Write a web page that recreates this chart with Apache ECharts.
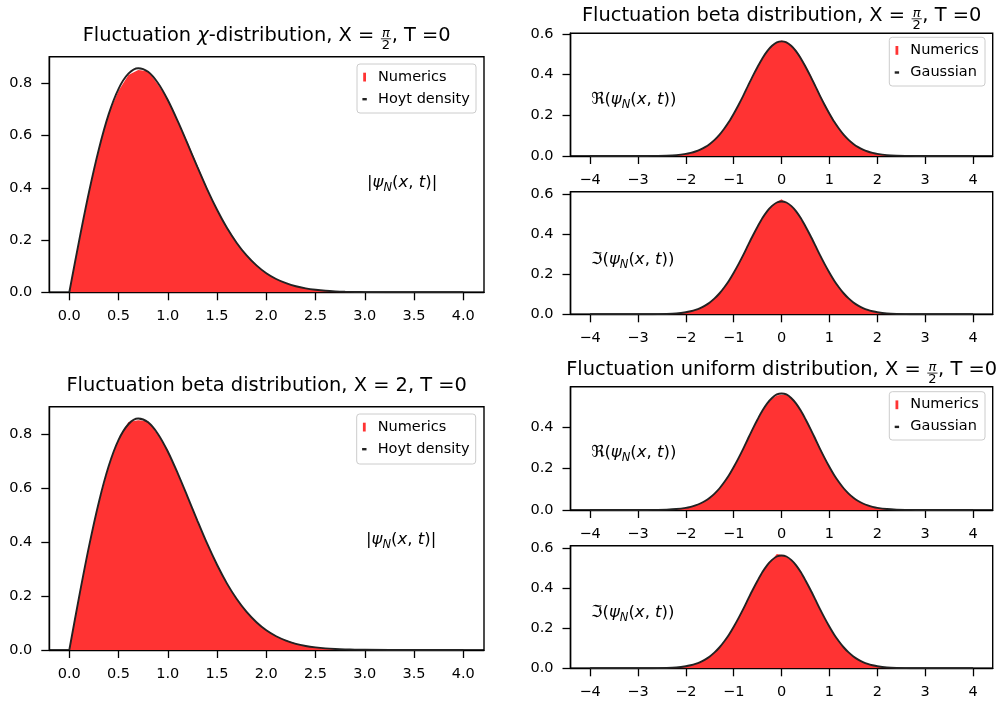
<!DOCTYPE html>
<html lang="en">
<head>
<meta charset="UTF-8">
<title>Fluctuation distributions</title>
<script src="https://cdn.jsdelivr.net/npm/echarts@6/dist/echarts.min.js"></script>
<style>
  html, body { margin: 0; padding: 0; background: #fff; }
  #main { width: 1000px; height: 704px; }
</style>
</head>
<body>
<div id="main"></div>
<script>
// ---- values ----
// left panels: |psi_N| histograms and Hoyt density
var hoytX = [0, 0.1, 0.2, 0.3, 0.4, 0.5, 0.6, 0.7, 0.8, 0.9, 1.0, 1.1, 1.2, 1.3, 1.4, 1.5, 1.6, 1.7, 1.8, 1.9,
             2.0, 2.1, 2.2, 2.3, 2.4, 2.5, 2.6, 2.7, 2.8, 2.9, 3.0];
var hoytCurveX = [0, 0.1, 0.2, 0.3, 0.4, 0.5, 0.6, 0.7, 0.8, 0.9, 1.0, 1.1, 1.2, 1.3, 1.4, 1.5, 1.6, 1.7, 1.8, 1.9,
                  2.0, 2.1, 2.2, 2.3, 2.4, 2.5, 2.6, 2.7, 2.8, 2.9, 3.0, 3.5, 4.0];
var hoytCurve = [0, 0.198, 0.384, 0.548, 0.682, 0.779, 0.837, 0.858, 0.844, 0.801,
                 0.736, 0.656, 0.569, 0.480, 0.394, 0.316, 0.247, 0.189, 0.141, 0.103,
                 0.073, 0.051, 0.035, 0.023, 0.015, 0.0097, 0.006, 0.0037, 0.0022, 0.0013,
                 0.0007, 0.00005, 0];
var chiNumerics = [0, 0.192, 0.380, 0.545, 0.684, 0.772, 0.832, 0.851, 0.846, 0.796,
                   0.740, 0.660, 0.575, 0.486, 0.398, 0.313, 0.250, 0.192, 0.139, 0.105,
                   0.071, 0.052, 0.034, 0.022, 0.016, 0.009, 0.006, 0.004, 0.002, 0.001,
                   0.0007];
var betaNumerics = [0, 0.195, 0.386, 0.544, 0.680, 0.781, 0.845, 0.852, 0.848, 0.798,
                    0.742, 0.652, 0.566, 0.483, 0.392, 0.318, 0.245, 0.190, 0.143, 0.101,
                    0.074, 0.050, 0.036, 0.024, 0.014, 0.010, 0.005, 0.004, 0.002, 0.001,
                    0.0006];

// right panels: real / imaginary part histograms and Gaussian
var gaussX = [-2.5, -2.4, -2.3, -2.2, -2.1, -2.0, -1.9, -1.8, -1.7, -1.6,
              -1.5, -1.4, -1.3, -1.2, -1.1, -1.0, -0.9, -0.8, -0.7, -0.6,
              -0.5, -0.4, -0.3, -0.2, -0.1, 0, 0.1, 0.2, 0.3, 0.4,
              0.5, 0.6, 0.7, 0.8, 0.9, 1.0, 1.1, 1.2, 1.3, 1.4,
              1.5, 1.6, 1.7, 1.8, 1.9, 2.0, 2.1, 2.2, 2.3, 2.4, 2.5];
var gaussCurveX = [-4, -3.5, -3, -2.8, -2.6, -2.4, -2.2,
                   -2.0, -1.9, -1.8, -1.7, -1.6, -1.5, -1.4, -1.3, -1.2, -1.1,
                   -1.0, -0.9, -0.8, -0.7, -0.6, -0.5, -0.4, -0.3, -0.2, -0.1,
                   0,
                   0.1, 0.2, 0.3, 0.4, 0.5, 0.6, 0.7, 0.8, 0.9, 1.0,
                   1.1, 1.2, 1.3, 1.4, 1.5, 1.6, 1.7, 1.8, 1.9, 2.0,
                   2.2, 2.4, 2.6, 2.8, 3, 3.5, 4];
var gaussCurve = [0, 0, 0.0001, 0.0002, 0.0007, 0.0018, 0.0045,
                  0.0103, 0.0153, 0.0221, 0.0314, 0.0436, 0.0595, 0.0795, 0.104, 0.134, 0.168,
                  0.208, 0.251, 0.297, 0.346, 0.394, 0.439, 0.481, 0.516, 0.542, 0.559,
                  0.564,
                  0.559, 0.542, 0.516, 0.481, 0.439, 0.394, 0.346, 0.297, 0.251, 0.208,
                  0.168, 0.134, 0.104, 0.0795, 0.0595, 0.0436, 0.0314, 0.0221, 0.0153, 0.0103,
                  0.0045, 0.0018, 0.0007, 0.0002, 0.0001, 0, 0];
var reBeta = [0.001, 0.002, 0.003, 0.004, 0.007, 0.010, 0.015, 0.022, 0.031, 0.043,
              0.058, 0.078, 0.102, 0.132, 0.166, 0.205, 0.247, 0.292, 0.340, 0.389,
              0.435, 0.478, 0.514, 0.541, 0.560, 0.568, 0.562, 0.546, 0.521, 0.486,
              0.445, 0.401, 0.352, 0.303, 0.257, 0.213, 0.172, 0.137, 0.106, 0.081,
              0.060, 0.044, 0.032, 0.022, 0.015, 0.010, 0.007, 0.005, 0.003, 0.002, 0.001];
var imBeta = [0.001, 0.002, 0.003, 0.004, 0.007, 0.010, 0.015, 0.022, 0.031, 0.044,
              0.060, 0.080, 0.104, 0.134, 0.168, 0.209, 0.252, 0.296, 0.345, 0.393,
              0.440, 0.480, 0.515, 0.543, 0.561, 0.575, 0.557, 0.541, 0.514, 0.482,
              0.437, 0.392, 0.347, 0.296, 0.250, 0.207, 0.168, 0.133, 0.104, 0.080,
              0.059, 0.044, 0.031, 0.022, 0.015, 0.010, 0.007, 0.004, 0.003, 0.002, 0.001];
var reUniform = [0.001, 0.002, 0.003, 0.004, 0.007, 0.010, 0.015, 0.022, 0.031, 0.043,
                 0.059, 0.079, 0.103, 0.133, 0.167, 0.206, 0.249, 0.294, 0.343, 0.390,
                 0.436, 0.478, 0.512, 0.538, 0.554, 0.558, 0.557, 0.544, 0.518, 0.484,
                 0.442, 0.398, 0.351, 0.301, 0.255, 0.211, 0.171, 0.136, 0.105, 0.080,
                 0.060, 0.044, 0.032, 0.022, 0.016, 0.010, 0.007, 0.005, 0.003, 0.002, 0.001];
var imUniform = [0.001, 0.002, 0.003, 0.004, 0.007, 0.010, 0.015, 0.022, 0.031, 0.044,
                 0.060, 0.080, 0.104, 0.134, 0.168, 0.208, 0.251, 0.297, 0.346, 0.394,
                 0.439, 0.481, 0.516, 0.543, 0.572, 0.566, 0.556, 0.540, 0.515, 0.480,
                 0.438, 0.393, 0.345, 0.296, 0.250, 0.207, 0.167, 0.133, 0.103, 0.079,
                 0.059, 0.043, 0.031, 0.022, 0.015, 0.010, 0.007, 0.004, 0.003, 0.002, 0.001];

// ticks
var leftXTicks = [0, 0.5, 1, 1.5, 2, 2.5, 3, 3.5, 4];
var leftYTicks = [0, 0.2, 0.4, 0.6, 0.8];
var rightXTicks = [-4, -3, -2, -1, 0, 1, 2, 3, 4];
var rightYTicks = [0, 0.2, 0.4, 0.6];
var rightYTicksShort = [0, 0.2, 0.4];

// ---- chart ----
var FONT = 'DejaVu Sans';
var RED = '#ff3333';
var LINE = '#222222';

function pairs(xs, ys) {
  return xs.map(function (x, i) { return [x, ys[i]]; });
}
function fixed1(v) { return v.toFixed(1); }
function intMinus(v) { return v < 0 ? '\u2212' + Math.abs(v) : String(v); }

var panels = [
  { grid: { left: 49.3, top: 56.7, width: 434.7, height: 235.6 }, xMin: -0.203, xMax: 4.21, yMax: 0.902,
    xTicks: leftXTicks, yTicks: leftYTicks, xFmt: fixed1, histX: hoytX, hist: chiNumerics,
    curveX: hoytCurveX, curve: hoytCurve, curveName: 'Hoyt density' },
  { grid: { left: 49.3, top: 406.7, width: 434.7, height: 243.3 }, xMin: -0.203, xMax: 4.21, yMax: 0.902,
    xTicks: leftXTicks, yTicks: leftYTicks, xFmt: fixed1, histX: hoytX, hist: betaNumerics,
    curveX: hoytCurveX, curve: hoytCurve, curveName: 'Hoyt density' },
  { grid: { left: 570.5, top: 33.3, width: 422.2, height: 122.7 }, xMin: -4.41, xMax: 4.41, yMax: 0.6035,
    xTicks: rightXTicks, yTicks: rightYTicks, xFmt: intMinus, histX: gaussX, hist: reBeta,
    curveX: gaussCurveX, curve: gaussCurve, curveName: 'Gaussian' },
  { grid: { left: 570.5, top: 191.7, width: 422.2, height: 122.6 }, xMin: -4.41, xMax: 4.41, yMax: 0.613,
    xTicks: rightXTicks, yTicks: rightYTicks, xFmt: intMinus, histX: gaussX, hist: imBeta,
    curveX: gaussCurveX, curve: gaussCurve, curveName: 'Gaussian' },
  { grid: { left: 570.5, top: 386.7, width: 422.2, height: 123.3 }, xMin: -4.41, xMax: 4.41, yMax: 0.5966,
    xTicks: rightXTicks, yTicks: rightYTicksShort, xFmt: intMinus, histX: gaussX, hist: reUniform,
    curveX: gaussCurveX, curve: gaussCurve, curveName: 'Gaussian' },
  { grid: { left: 570.5, top: 545.7, width: 422.2, height: 122.6 }, xMin: -4.41, xMax: 4.41, yMax: 0.613,
    xTicks: rightXTicks, yTicks: rightYTicks, xFmt: intMinus, histX: gaussX, hist: imUniform,
    curveX: gaussCurveX, curve: gaussCurve, curveName: 'Gaussian' }
];

var grids = [], xAxes = [], yAxes = [], series = [];
var tickStyle = { show: true, inside: false, length: 8, lineStyle: { color: '#000', width: 1.3 } };
var labelBase = { color: '#000', fontFamily: FONT, fontSize: 14.5 };

panels.forEach(function (p, i) {
  grids.push(Object.assign({ show: true, borderColor: '#000', borderWidth: 1.4, backgroundColor: '#fff' }, p.grid));
  xAxes.push({
    type: 'value', gridIndex: i, min: p.xMin, max: p.xMax,
    axisLine: { show: true, onZero: false, lineStyle: { color: '#000', width: 1.4 } },
    axisTick: Object.assign({ customValues: p.xTicks }, tickStyle),
    axisLabel: Object.assign({ customValues: p.xTicks, formatter: p.xFmt, margin: 16.5 }, labelBase),
    splitLine: { show: false }
  });
  yAxes.push({
    type: 'value', gridIndex: i, min: 0, max: p.yMax,
    axisLine: { show: true, onZero: false, lineStyle: { color: '#000', width: 1.4 } },
    axisTick: Object.assign({ customValues: p.yTicks }, tickStyle),
    axisLabel: Object.assign({ customValues: p.yTicks, formatter: fixed1, margin: 17 }, labelBase),
    splitLine: { show: false }
  });
  series.push({
    name: 'Numerics', type: 'line', xAxisIndex: i, yAxisIndex: i,
    data: pairs(p.histX, p.hist), symbol: 'none', silent: true,
    lineStyle: { width: 0 }, itemStyle: { color: RED },
    areaStyle: { color: RED, opacity: 1 }, z: 2
  });
  series.push({
    name: p.curveName, type: 'line', xAxisIndex: i, yAxisIndex: i,
    data: pairs(p.curveX, p.curve), symbol: 'none', silent: true, smooth: 0.3,
    lineStyle: { color: LINE, width: 1.9 }, itemStyle: { color: LINE }, z: 3
  });
});

// ---- titles, legends and labels drawn as graphic text ----
var mctx = document.createElement('canvas').getContext('2d');
function textW(s, size, italic) {
  mctx.font = (italic ? 'italic ' : '') + size + 'px "' + FONT + '"';
  return mctx.measureText(s).width;
}
function txt(x, y, s, size, italic, align) {
  return { type: 'text', x: x, y: y, z: 100, silent: true,
    style: { text: s, fontSize: size, fontFamily: FONT, fontStyle: italic ? 'italic' : 'normal',
             fill: '#000', align: align || 'left', verticalAlign: 'middle' } };
}
function mathTitle(cx, base, parts) {
  var TS = 19.4, FS = 13, els = [], total = 0;
  parts.forEach(function (p) {
    p.w = p.num ? Math.max(textW(p.num, FS, true), textW(p.den, FS)) + 3 : textW(p.t, TS, p.it);
    total += p.w;
  });
  var x = cx - total / 2;
  parts.forEach(function (p) {
    if (p.num) {
      var mx = x + p.w / 2;
      els.push(txt(mx, base - 4.4 - 0.32 * FS, p.num, FS, true, 'center'));
      els.push(txt(mx, base + 7.6 - 0.32 * FS, p.den, FS, false, 'center'));
      els.push({ type: 'line', z: 100, silent: true,
        shape: { x1: x + 0.5, y1: base - 2.9, x2: x + p.w - 0.5, y2: base - 2.9 },
        style: { stroke: '#000', lineWidth: 0.8 } });
    } else {
      els.push(txt(x, base - 0.32 * TS, p.t, TS, p.it, 'left'));
    }
    x += p.w;
  });
  return els;
}
function legendBox(x, y, w, h, curveLabel) {
  return [
    { type: 'rect', z: 100, silent: true, shape: { x: x, y: y, width: w, height: h, r: 3 },
      style: { fill: 'rgba(255,255,255,0.8)', stroke: '#cccccc', lineWidth: 1 } },
    { type: 'rect', z: 101, silent: true, shape: { x: x + 6.2, y: y + 8.7, width: 2.8, height: 8.8 },
      style: { fill: RED } },
    { type: 'rect', z: 101, silent: true, shape: { x: x + 5.4, y: y + 34, width: 4.4, height: 2.4 },
      style: { fill: LINE } },
    txt(x + 21, y + 13, 'Numerics', 14.5),
    txt(x + 21, y + 35, curveLabel, 14.5)
  ];
}
var RICH = {
  r: { fontFamily: FONT, fontSize: 16.5, fill: '#000', lineHeight: 22, verticalAlign: 'middle' },
  i: { fontFamily: FONT, fontSize: 16.5, fontStyle: 'italic', fill: '#000', lineHeight: 22, verticalAlign: 'middle' },
  s: { fontFamily: FONT, fontSize: 11.5, fontStyle: 'italic', fill: '#000', lineHeight: 11, verticalAlign: 'bottom' }
};
var psi = '{i|\u03c8}{s|N}{r|(}{i|x}{r|, }{i|t}{r|)}';
function mathLabel(x, y, s) {
  return { type: 'text', x: x, y: y, z: 100, silent: true,
    style: { text: s, rich: RICH, align: 'left', verticalAlign: 'middle' } };
}

var graphics = [].concat(
  mathTitle(266.6, 41.7, [{ t: 'Fluctuation ' }, { t: '\u03c7', it: true }, { t: '-distribution, X = ' },
                          { num: '\u03c0', den: '2' }, { t: ', T =0' }]),
  mathTitle(266.6, 391.7, [{ t: 'Fluctuation beta distribution, X = 2, T =0' }]),
  mathTitle(781.6, 21.7, [{ t: 'Fluctuation beta distribution, X = ' }, { num: '\u03c0', den: '2' }, { t: ', T =0' }]),
  mathTitle(781.6, 376, [{ t: 'Fluctuation uniform distribution, X = ' }, { num: '\u03c0', den: '2' }, { t: ', T =0' }]),
  legendBox(357, 64, 119, 49, 'Hoyt density'),
  legendBox(356.7, 414, 119, 50, 'Hoyt density'),
  legendBox(889.3, 37.3, 95.7, 48.7, 'Gaussian'),
  legendBox(889.3, 391.7, 95.7, 48.3, 'Gaussian'),
  [
    mathLabel(367, 183, '{r||}' + psi + '{r||}'),
    mathLabel(366, 540, '{r||}' + psi + '{r||}'),
    mathLabel(591, 100, '{r|\u211c(}' + psi + '{r|)}'),
    mathLabel(591, 260, '{r|\u2111(}' + psi + '{r|)}'),
    mathLabel(591, 453, '{r|\u211c(}' + psi + '{r|)}'),
    mathLabel(591, 613, '{r|\u2111(}' + psi + '{r|)}')
  ]
);

var myChart = echarts.init(document.getElementById('main'), null, { renderer: 'canvas' });
var option = {
  animation: false,
  backgroundColor: '#fff',
  grid: grids,
  xAxis: xAxes,
  yAxis: yAxes,
  series: series,
  graphic: { elements: graphics }
};
option && myChart.setOption(option);
</script>
</body>
</html>
